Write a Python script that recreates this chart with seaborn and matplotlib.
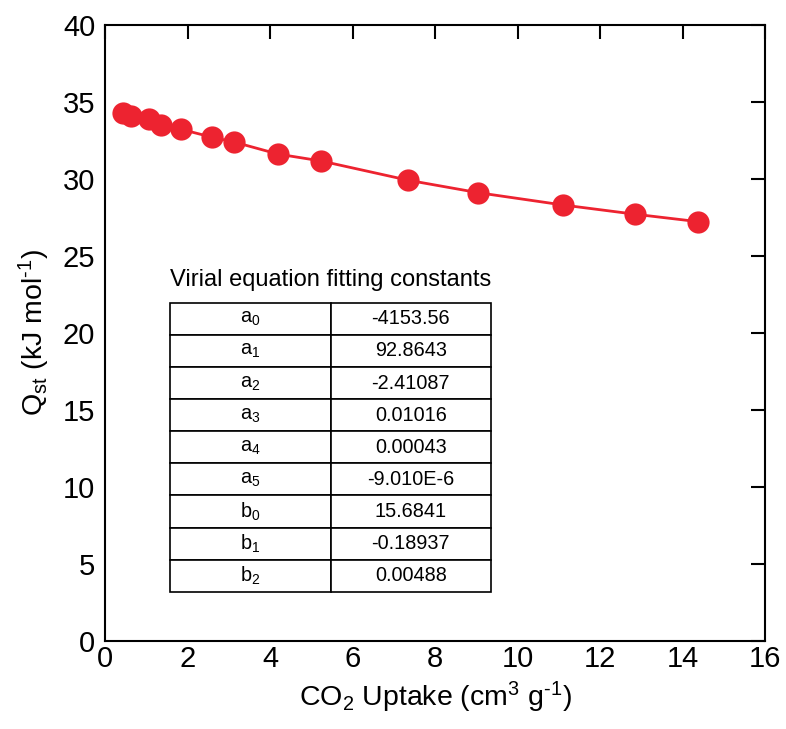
import matplotlib
matplotlib.use("Agg")
import matplotlib.pyplot as plt
import seaborn as sns
import pandas as pd

uptake = [0.43, 0.62, 1.07, 1.365, 1.84, 2.60, 3.13, 4.19, 5.24, 7.35, 9.05, 11.11, 12.86, 14.38]
qst = [34.27, 34.09, 33.88, 33.51, 33.23, 32.71, 32.40, 31.62, 31.17, 29.92, 29.11, 28.31, 27.71, 27.23]
param_names = ["a$_0$", "a$_1$", "a$_2$", "a$_3$", "a$_4$", "a$_5$", "b$_0$", "b$_1$", "b$_2$"]
param_values = ["-4153.56", "92.8643", "-2.41087", "0.01016", "0.00043", "-9.010E-6", "15.6841", "-0.18937", "0.00488"]
xticks = [0, 2, 4, 6, 8, 10, 12, 14, 16]
yticks = [0, 5, 10, 15, 20, 25, 30, 35, 40]

sns.set_style("white")
plt.rcParams['font.family'] = ['Liberation Sans', 'DejaVu Sans']
plt.rcParams['mathtext.fontset'] = 'custom'
plt.rcParams['mathtext.rm'] = 'Liberation Sans'
plt.rcParams['mathtext.it'] = 'Liberation Sans'
plt.rcParams['mathtext.default'] = 'regular'
plt.rcParams['text.color'] = 'black'
plt.rcParams['axes.labelcolor'] = 'black'

fig = plt.figure(figsize=(7.86, 7.29), dpi=100)
ax = fig.add_axes([0.1336, 0.1207, 0.8397, 0.845])

df = pd.DataFrame({"x": uptake, "y": qst})
sns.lineplot(data=df, x="x", y="y", ax=ax, color="#ED2330", linewidth=2,
             marker="o", markersize=16, markeredgewidth=0)

ax.set_xlim(0, 16)
ax.set_ylim(0, 40)
ax.set_xticks(xticks)
ax.set_yticks(yticks)
ax.tick_params(direction="in", length=10, width=1.5, labelsize=21, color="black",
               top=True, right=True, labelcolor="black")
ax.tick_params(axis="x", pad=3)
ax.tick_params(axis="y", pad=7)
for s in ax.spines.values():
    s.set_linewidth(1.5)
    s.set_color("black")
    s.set_visible(True)

ax.set_xlabel(r"CO$_2$ Uptake (cm$^3$ g$^{\text{-1}}$)", fontsize=20.5, labelpad=5)
ax.set_ylabel(r"Q$_{st}$ (kJ mol$^{\text{-1}}$)", fontsize=20.5, labelpad=8)

cells = [[n, v] for n, v in zip(param_names, param_values)]
tbl = ax.table(cellText=cells, cellLoc="center",
               bbox=[0.0985, 0.080, 0.4864, 0.469])
tbl.auto_set_font_size(False)
tbl.set_fontsize(14.3)
for (r, c), cell in tbl.get_celld().items():
    cell.set_linewidth(1.2)
    cell.set_edgecolor("black")
    cell.get_text().set_color("black")

ax.text(0.342, 0.586, "Virial equation fitting constants", transform=ax.transAxes,
        ha="center", va="center", fontsize=17, color="black")

fig.savefig("out.png", dpi=100)
